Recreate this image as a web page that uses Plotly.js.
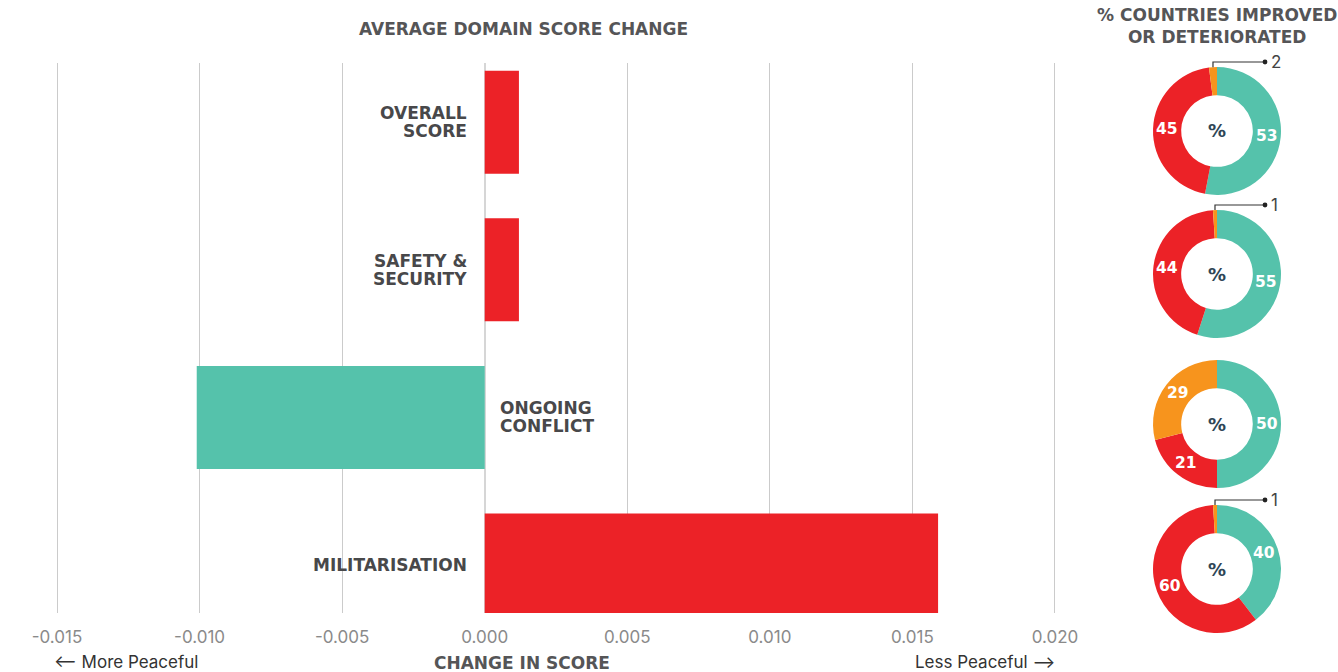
<!DOCTYPE html>
<html>
<head>
<meta charset="utf-8">
<script src="https://cdn.plot.ly/plotly-3.0.1.min.js"></script>
<style>html,body{margin:0;padding:0;background:#fff;}#chart{width:1338px;height:672px;}</style>
</head>
<body>
<div id="chart"></div>
<script>
// ---------- data ----------
const categories = ['Overall Score', 'Safety & Security', 'Ongoing Conflict', 'Militarisation'];
const categoryLabels = ['OVERALL<br>SCORE', 'SAFETY &<br>SECURITY', 'ONGOING<br>CONFLICT', 'MILITARISATION'];
const scoreChange = [0.0012, 0.0012, -0.0101, 0.0159];
const tickValues = [-0.015, -0.010, -0.005, 0.000, 0.005, 0.010, 0.015, 0.020];
const tickLabels = tickValues.map(v => v.toFixed(3));
const improvedPct = [53, 55, 50, 40];
const deterioratedPct = [45, 44, 21, 60];
const noChangePct = [2, 1, 29, 1];
const sliceNames = ['Improved', 'Deteriorated', 'No change'];

// ---------- styling / layout helpers ----------
const W = 1338, H = 672;
const px = x => x / W;
const py = y => 1 - y / H;
const TEAL = '#55C2AB', RED = '#EC2227', ORANGE = '#F7941D';
const FONT = 'Inter, "Open Sans", sans-serif';
const BOLDFONT = '"DejaVu Sans", Inter, sans-serif';
const LABEL = '#48484a';
const TITLE = '#555557';

const donutCX = 1217, donutR = 64, donutHole = 0.56;
const donutCY = [131, 274, 424, 569];

const traces = [];
traces.push({
  type: 'bar', orientation: 'h',
  x: scoreChange, y: categories,
  width: 0.698,
  marker: {color: scoreChange.map(v => v >= 0 ? RED : TEAL), line: {width: 0}},
  hoverinfo: 'x+y', showlegend: false
});

const annotations = [];
const shapes = [];

categories.forEach((c, i) => {
  const pos = scoreChange[i] >= 0;
  const lines = categoryLabels[i].split('<br>');
  lines.forEach((ln, j) => {
    annotations.push({
      xref: 'x', yref: 'y', x: 0, y: i,
      text: '<b>' + ln + '</b>',
      xanchor: pos ? 'right' : 'left', xshift: pos ? -16 : 13,
      yanchor: 'middle', yshift: -(j - (lines.length - 1) / 2) * 18,
      showarrow: false,
      font: {family: BOLDFONT, size: 17, color: LABEL}
    });
  });
});

improvedPct.forEach((imp, k) => {
  const vals = [imp, deterioratedPct[k], noChangePct[k]];
  const total = vals.reduce((a, b) => a + b, 0);
  const cy = donutCY[k];
  traces.push({
    type: 'pie', values: vals, labels: sliceNames,
    hole: donutHole, sort: false, direction: 'clockwise', rotation: 0,
    marker: {colors: [TEAL, RED, ORANGE], line: {width: 0}},
    textinfo: 'none',
    domain: {x: [px(donutCX - donutR), px(donutCX + donutR)], y: [py(cy + donutR), py(cy - donutR)]},
    showlegend: false, hoverinfo: 'label+value'
  });
  annotations.push({
    xref: 'paper', yref: 'paper', x: px(donutCX), y: py(cy),
    xanchor: 'center', yanchor: 'middle',
    text: '<b>%</b>', showarrow: false,
    font: {family: BOLDFONT, size: 18, color: '#2f4656'}
  });
  vals.forEach((v, s) => {
    const before = vals.slice(0, s).reduce((a, b) => a + b, 0);
    const th = 2 * Math.PI * (before + v / 2) / total;
    if (v >= 5) {
      const rm = donutR * (1 + donutHole) / 2;
      annotations.push({
        xref: 'paper', yref: 'paper',
        x: px(donutCX + rm * Math.sin(th)), y: py(cy - rm * Math.cos(th)),
        xanchor: 'center', yanchor: 'middle', showarrow: false,
        text: '<b>' + v + '</b>',
        font: {family: BOLDFONT, size: 15.5, color: '#ffffff'}
      });
      return;
    }
    const sx = donutCX + donutR * Math.sin(th);
    const sy = cy - donutR * Math.cos(th);
    const ly = cy - donutR - 5;
    const ex = 1265;
    shapes.push({
      type: 'path', xref: 'paper', yref: 'paper',
      path: `M ${px(sx)},${py(sy)} L ${px(sx)},${py(ly)} L ${px(ex)},${py(ly)}`,
      line: {color: '#333', width: 1.2}
    });
    shapes.push({
      type: 'circle', xref: 'paper', yref: 'paper',
      x0: px(ex - 2.4), x1: px(ex + 2.4), y0: py(ly + 2.4), y1: py(ly - 2.4),
      fillcolor: '#222', line: {width: 0}
    });
    annotations.push({
      xref: 'paper', yref: 'paper', x: px(ex + 4), y: py(ly),
      xanchor: 'left', yanchor: 'middle', text: String(v), showarrow: false,
      font: {family: FONT, size: 17, color: '#444'}
    });
  });
});

// titles and axis captions
annotations.push({
  xref: 'paper', yref: 'paper', x: px(523), y: py(29), xanchor: 'center', yanchor: 'middle',
  text: '<b>AVERAGE DOMAIN SCORE CHANGE</b>',
  showarrow: false, font: {family: BOLDFONT, size: 17, color: TITLE}
});
annotations.push({
  xref: 'paper', yref: 'paper', x: px(1217), y: py(26), xanchor: 'center', yanchor: 'middle',
  text: '<b>% COUNTRIES IMPROVED<br>OR DETERIORATED</b>',
  showarrow: false, font: {family: BOLDFONT, size: 17, color: TITLE}
});
annotations.push({
  xref: 'paper', yref: 'paper', x: px(522), y: py(663), xanchor: 'center', yanchor: 'middle',
  text: '<b>CHANGE IN SCORE</b>',
  showarrow: false, font: {family: BOLDFONT, size: 17, color: TITLE}
});
annotations.push({
  xref: 'paper', yref: 'paper', x: px(52), y: py(662), xanchor: 'left', yanchor: 'middle',
  text: '⟵ More Peaceful',
  showarrow: false, font: {family: FONT, size: 17, color: '#333'}
});
annotations.push({
  xref: 'paper', yref: 'paper', x: px(1057), y: py(662), xanchor: 'right', yanchor: 'middle',
  text: 'Less Peaceful ⟶',
  showarrow: false, font: {family: FONT, size: 17, color: '#333'}
});

const layout = {
  width: W, height: H,
  margin: {l: 0, r: 0, t: 0, b: 0},
  paper_bgcolor: '#fff', plot_bgcolor: '#fff',
  font: {family: FONT},
  xaxis: {
    domain: [px(55.3), px(1056.7)], range: [-0.01506, 0.02006],
    tickvals: tickValues, ticktext: tickLabels,
    showgrid: true, gridcolor: '#cbcbcb', gridwidth: 1,
    zeroline: true, zerolinecolor: '#d6d6d6', zerolinewidth: 2,
    ticks: '', ticklabelstandoff: 12,
    tickfont: {family: FONT, size: 17, color: '#8a8a8a'},
    fixedrange: true, showline: false
  },
  yaxis: {
    domain: [py(613), py(63)], type: 'category',
    range: [3.325, -0.401],
    showticklabels: false, showgrid: false, zeroline: false, ticks: '',
    fixedrange: true
  },
  annotations: annotations,
  shapes: shapes,
  showlegend: false
};

Plotly.newPlot('chart', traces, layout, {displayModeBar: false, staticPlot: true});
</script>
</body>
</html>
